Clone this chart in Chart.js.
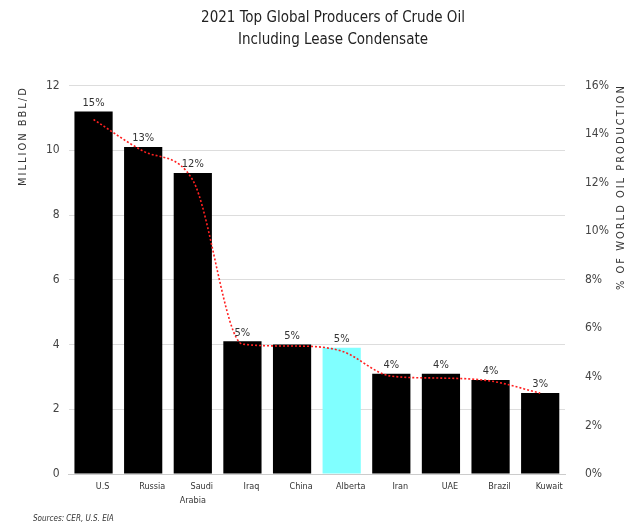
<!DOCTYPE html>
<html>
<head>
<meta charset="utf-8">
<script src="https://cdn.jsdelivr.net/npm/chart.js@4"></script>
<style>
    html, body { margin: 0; padding: 0; background: #fff; }
    #wrap { width: 637px; height: 529px; position: relative; }
</style>
</head>
<body>
<div id="wrap"><canvas id="grafico"></canvas></div>
<script>
const produtores = ['U.S', 'Russia', ['Saudi', 'Arabia'], 'Iraq', 'China', 'Alberta', 'Iran', 'UAE', 'Brazil', 'Kuwait'];
const producao = [11.2, 10.1, 9.3, 4.1, 4.0, 3.9, 3.1, 3.1, 2.9, 2.5];
const participacao = [14.6, 13.3, 12.1, 5.35, 5.27, 5.06, 4.03, 3.95, 3.83, 3.33];
const rotulos = ['15%', '13%', '12%', '5%', '5%', '5%', '4%', '4%', '4%', '3%'];
const coresBarras = ['#000', '#000', '#000', '#000', '#000', '#80ffff', '#000', '#000', '#000', '#000'];

const fonte = "'Liberation Sans Narrow', 'DejaVu Sans Condensed', 'Liberation Sans', sans-serif";

// rotulos de % em cima das barras + nomes no eixo x
const rotulosPlugin = {
    id: 'rotulos',
    afterDatasetsDraw(chart) {
        const ctx = chart.ctx;
        const meta = chart.getDatasetMeta(1);
        ctx.save();
        ctx.font = '11px ' + fonte;
        ctx.fillStyle = '#333';
        ctx.textAlign = 'center';
        ctx.textBaseline = 'bottom';
        meta.data.forEach((bar, i) => {
            ctx.fillText(rotulos[i], bar.x, bar.y - 3);
        });

        ctx.font = '9px ' + fonte;
        ctx.textBaseline = 'middle';
        meta.data.forEach((bar, i) => {
            const linhas = [].concat(produtores[i]);
            linhas.forEach((l, j) => {
                const dx = j === 0 ? 9 : 0;
                ctx.fillText(l, bar.x + dx, 487 + j * 14);
            });
        });
        ctx.restore();
    }
};

// titulos dos eixos e fonte dos dados
const textosPlugin = {
    id: 'textos',
    afterDraw(chart) {
        const ctx = chart.ctx;
        ctx.save();
        ctx.fillStyle = '#333';
        ctx.font = '11px ' + fonte;
        ctx.letterSpacing = '2px';
        ctx.textBaseline = 'middle';

        ctx.save();
        ctx.translate(23, 186);
        ctx.rotate(-Math.PI / 2);
        ctx.textAlign = 'left';
        ctx.fillText('MILLION BBL/D', 0, 0);
        ctx.restore();

        ctx.save();
        ctx.translate(621, 290);
        ctx.rotate(-Math.PI / 2);
        ctx.textAlign = 'left';
        ctx.fillText('% OF WORLD OIL PRODUCTION', 0, 0);
        ctx.restore();

        ctx.letterSpacing = '0px';
        ctx.font = 'italic 8px ' + fonte;
        ctx.textAlign = 'left';
        ctx.fillText('Sources: CER, U.S. EIA', 33, 519);
        ctx.restore();
    }
};

const ctx = document.getElementById('grafico').getContext('2d');
const grafico = new Chart(ctx, {
    type: 'bar',
    data: {
        labels: produtores,
        datasets: [{
            type: 'line',
            label: '% of world',
            data: participacao,
            yAxisID: 'y1',
            borderColor: '#ff2020',
            borderWidth: 1.6,
            borderDash: [2, 2],
            pointRadius: 0,
            cubicInterpolationMode: 'monotone',
            fill: false,
            order: 0
        }, {
            label: 'Million bbl/d',
            data: producao,
            backgroundColor: coresBarras,
            barPercentage: 0.77,
            categoryPercentage: 1,
            yAxisID: 'y',
            order: 1
        }]
    },
    options: {
        responsive: true,
        maintainAspectRatio: false,
        animation: false,
        layout: {
            padding: { left: 37, right: 8, top: 0, bottom: 47 }
        },
        plugins: {
            legend: { display: false },
            tooltip: { enabled: false },
            title: {
                display: true,
                text: ['2021 Top Global Producers of Crude Oil', 'Including Lease Condensate'],
                font: { family: fonte, size: 15, weight: 'normal', lineHeight: 1.45 },
                color: '#222',
                padding: { top: 7, bottom: 35 }
            }
        },
        scales: {
            x: {
                grid: { display: false },
                border: { color: '#ccc' },
                ticks: { display: false }
            },
            y: {
                position: 'left',
                min: 0,
                max: 12,
                ticks: {
                    stepSize: 2,
                    font: { family: fonte, size: 12 },
                    color: '#444',
                    padding: 9
                },
                grid: { color: '#dddddd', drawTicks: false },
                border: { display: false }
            },
            y1: {
                position: 'right',
                min: 0,
                max: 16,
                ticks: {
                    stepSize: 2,
                    callback: v => v + '%',
                    font: { family: fonte, size: 12 },
                    color: '#444',
                    padding: 20
                },
                grid: { drawOnChartArea: false, drawTicks: false },
                border: { display: false }
            }
        }
    },
    plugins: [rotulosPlugin, textosPlugin]
});
</script>
</body>
</html>
